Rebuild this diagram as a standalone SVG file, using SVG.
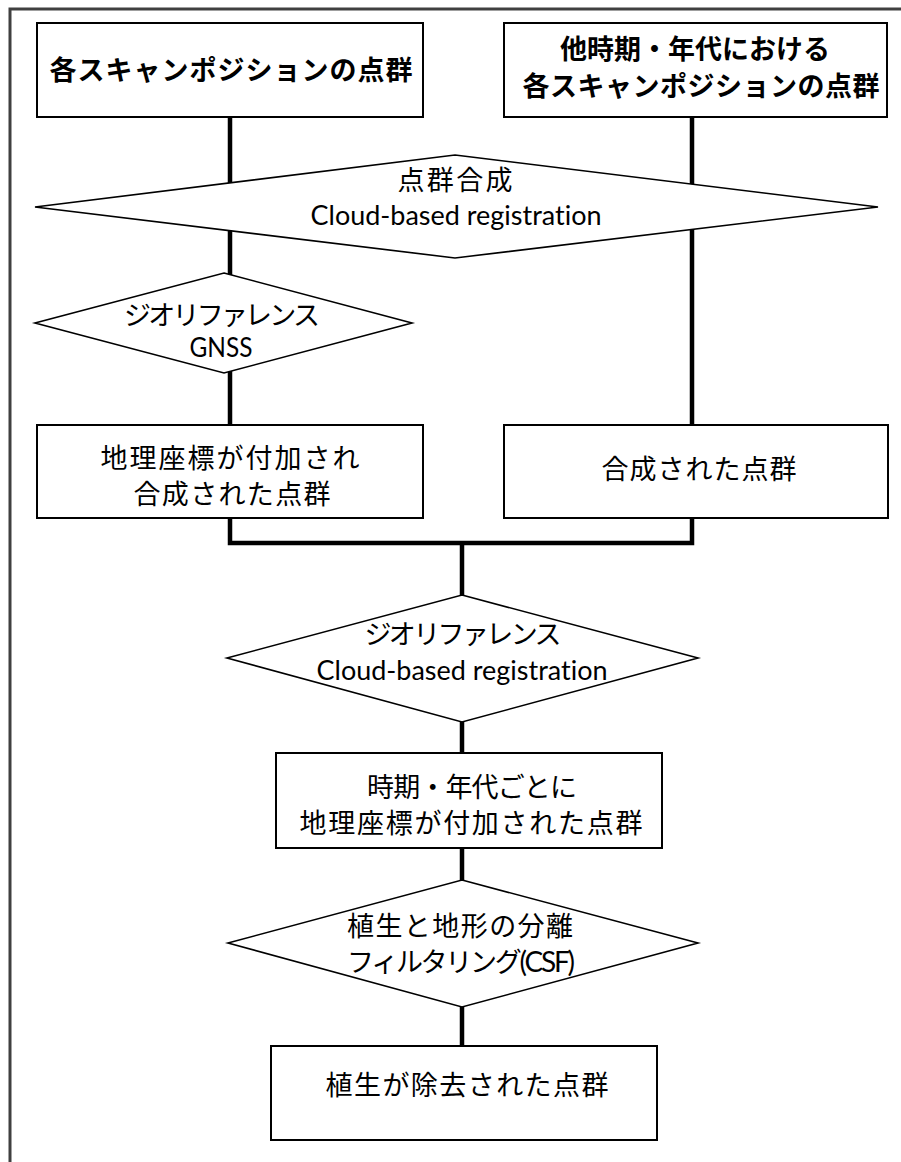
<svg xmlns="http://www.w3.org/2000/svg" width="901" height="1162" viewBox="0 0 901 1162">
<style>
.box{fill:#fff;stroke:#000;stroke-width:2}
.dia{fill:#fff;stroke:#000;stroke-width:1.6}
.con{fill:none;stroke:#000;stroke-width:4.5}
.jp{font-family:"Noto Sans CJK JP","Noto Sans CJK SC",sans-serif;font-size:27px;fill:#000;text-anchor:middle}
.b{font-weight:bold}
.en{font-family:Lato,"Open Sans",sans-serif;font-size:26px;fill:#000;text-anchor:middle;font-variant-ligatures:none}
</style>
<rect width="901" height="1162" fill="#fff"/>
<path d="M10,1162 V9 H901" fill="none" stroke="#404040" stroke-width="3"/>
<g id="connectors">
<path class="con" d="M230,117 V425"/>
<path class="con" d="M692,117 V425"/>
<path class="con" d="M230,518 V543 H692 V518"/>
<path class="con" d="M462,543 V596"/>
<path class="con" d="M462,722 V753"/>
<path class="con" d="M462,848 V880"/>
<path class="con" d="M462,1007 V1046"/>
</g>
<g id="n1">
<rect class="box" x="37" y="23" width="386" height="94"/>
<text class="jp b" x="231" y="80" textLength="363">各スキャンポジションの点群</text>
</g>
<g id="n2">
<rect class="box" x="504" y="23" width="383" height="94"/>
<text class="jp b" x="695" y="59" font-size="26" textLength="270">他時期・年代における</text>
<text class="jp b" x="701" y="96" font-size="26" textLength="357">各スキャンポジションの点群</text>
</g>
<g id="d1">
<polygon class="dia" points="455,155 878,207 455,258 35,207"/>
<text class="jp" x="455" y="190" textLength="115">点群合成</text>
<text class="en" x="456" y="225" textLength="291" lengthAdjust="spacingAndGlyphs">Cloud-based registration</text>
</g>
<g id="d2">
<polygon class="dia" points="224,273 412,323 224,373 35,323"/>
<text class="jp" x="222" y="325" textLength="196">ジオリファレンス</text>
<text class="en" x="221" y="357" textLength="63" lengthAdjust="spacingAndGlyphs">GNSS</text>
</g>
<g id="n3">
<rect class="box" x="37" y="425" width="386" height="93"/>
<text class="jp" x="230" y="468" textLength="259">地理座標が付加され</text>
<text class="jp" x="232" y="504" textLength="197">合成された点群</text>
</g>
<g id="n4">
<rect class="box" x="504" y="425" width="384" height="93"/>
<text class="jp" x="699" y="479" textLength="195">合成された点群</text>
</g>
<g id="d3">
<polygon class="dia" points="462,595 698,658 462,722 227,658"/>
<text class="jp" x="463" y="644" textLength="197">ジオリファレンス</text>
<text class="en" x="462" y="680" textLength="291" lengthAdjust="spacingAndGlyphs">Cloud-based registration</text>
</g>
<g id="n5">
<rect class="box" x="276" y="753" width="386" height="95"/>
<text class="jp" x="472" y="797" textLength="210">時期・年代ごとに</text>
<text class="jp" x="471" y="833" textLength="343">地理座標が付加された点群</text>
</g>
<g id="d4">
<polygon class="dia" points="462,880 698,943 462,1007 228,943"/>
<text class="jp" x="460" y="936" textLength="226">植生と地形の分離</text>
<text class="jp" x="461" y="972" textLength="228">フィルタリング<tspan style="font-family:Lato,'Open Sans',sans-serif;font-size:28px">(CSF)</tspan></text>
</g>
<g id="n6">
<rect class="box" x="271" y="1046" width="386" height="94"/>
<text class="jp" x="467" y="1095" textLength="283">植生が除去された点群</text>
</g>
</svg>
